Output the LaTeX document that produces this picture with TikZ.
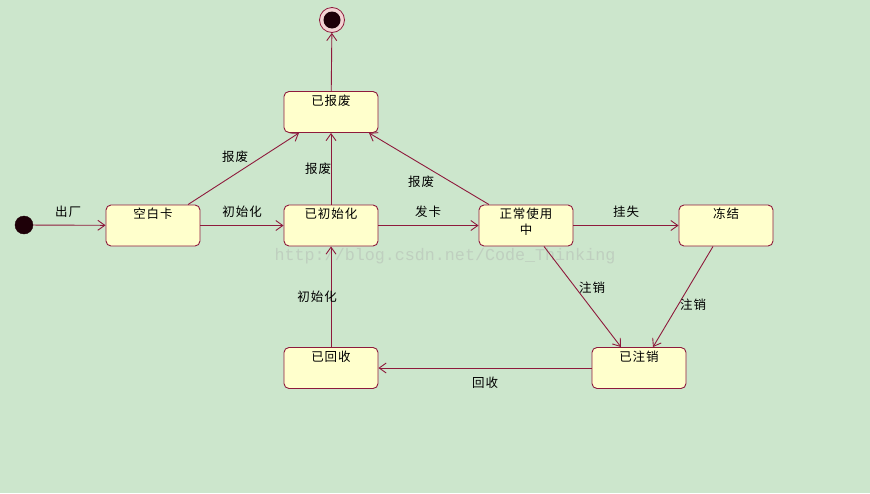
\documentclass[tikz,border=0pt]{standalone}
\usepackage{fontspec}
\newfontfamily\cjk[LetterSpace=8]{Noto Sans CJK SC}
\newfontfamily\wmfont{Liberation Mono}
\usetikzlibrary{arrows.meta,calc}
\definecolor{bg}{HTML}{CCE6CC}
\definecolor{boxfill}{HTML}{FFFFCC}
\definecolor{edgec}{HTML}{8E1A3C}
\definecolor{dotc}{HTML}{1E0008}
\definecolor{ringc}{HTML}{F3D4D4}
\definecolor{wmc}{HTML}{BFCFBF}
\newcommand{\stxt}[1]{\parbox[c][35pt][t]{90pt}{\centering #1}}
\tikzset{
  statebox/.style={draw=edgec, fill=boxfill, rounded corners=5pt, minimum width=94pt,
    minimum height=41pt, inner sep=0pt, line width=0.9pt,
    font=\cjk\fontsize{12.5}{16}\selectfont},
  conn/.style={draw=edgec, line width=0.9pt, -{Straight Barb[length=7pt,width=10pt]}},
  lbl/.style={font=\cjk\fontsize{12.5}{14}\selectfont, inner sep=1pt, text=black},
}
\begin{document}
\begin{tikzpicture}[x=1pt,y=-1pt]
\useasboundingbox (0,0) rectangle (870,493);
\fill[bg] (0,0) rectangle (870,493);

% watermark
\node[font=\wmfont\fontsize{16.7}{18}\selectfont, text=wmc, inner sep=0pt] (wm) at (445,256) {http://blog.csdn.net/Code\_Thinking};

% states
\node[statebox] (kb) at (153,225.5) {\stxt{空白卡}};
\node[statebox] (cs) at (331,225.5) {\stxt{已初始化}};
\node[statebox] (zc) at (526,225.5) {\stxt{正常使用\\中}};
\node[statebox] (dj) at (726,225.5) {\stxt{冻结}};
\node[statebox] (bf) at (331,112) {\stxt{已报废}};
\node[statebox] (hs) at (331,368) {\stxt{已回收}};
\node[statebox] (zx) at (639,368) {\stxt{已注销}};

% initial and final
\node[circle, fill=dotc, draw=dotc, minimum size=18pt, inner sep=0pt] (init) at (24,225) {};
\node[circle, fill=ringc, draw=edgec, line width=0.8pt, minimum size=25pt, inner sep=0pt] (final) at (332,20) {};
\fill[dotc] (final.center) circle (8.5pt);

% connectors
\draw[conn] (init) -- (kb);
\draw[conn] (kb) -- (cs);
\draw[conn] (cs) -- (zc);
\draw[conn] (zc) -- (dj);
\draw[conn] ($(kb.north)+(35,0)$) -- ($(bf.south)+(-32,0)$);
\draw[conn] (cs) -- (bf);
\draw[conn] ($(zc.north)+(-37,0)$) -- ($(bf.south)+(38,0)$);
\draw[conn] (bf) -- (final);
\draw[conn] (hs) -- (cs);
\draw[conn] (zx) -- (hs);
\draw[conn] ($(zc.south)+(18,0)$) -- ($(zx.north)+(-18,0)$);
\draw[conn] ($(dj.south)+(-13,0)$) -- ($(zx.north)+(14,0)$);

% labels
\node[lbl] (l1) at (68,212) {出厂};
\node[lbl] (l2) at (242,212) {初始化};
\node[lbl] (l3) at (428,212) {发卡};
\node[lbl] (l4) at (626,212) {挂失};
\node[lbl] (l5) at (235,157) {报废};
\node[lbl] (l6) at (318,169) {报废};
\node[lbl] (l7) at (421,182) {报废};
\node[lbl] (l8) at (592,288) {注销};
\node[lbl] (l9) at (693,305) {注销};
\node[lbl] (l10) at (317,297) {初始化};
\node[lbl] (l11) at (485,383) {回收};
\end{tikzpicture}
\end{document}
